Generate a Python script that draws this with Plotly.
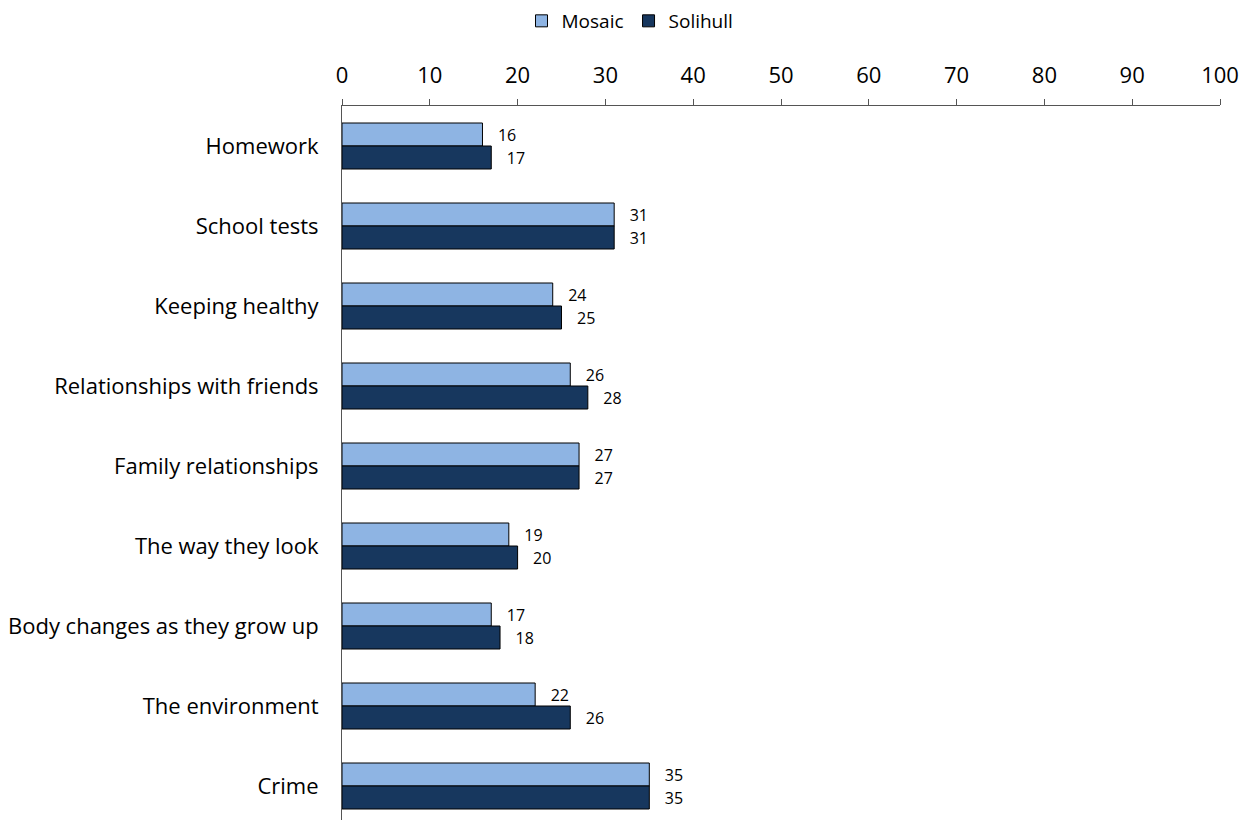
import plotly.graph_objects as go

# カテゴリと値
categories = [
    "Homework", "School tests", "Keeping healthy", "Relationships with friends",
    "Family relationships", "The way they look", "Body changes as they grow up",
    "The environment", "Crime",
]
mosaic = [16, 31, 24, 26, 27, 19, 17, 22, 35]
solihull = [17, 31, 25, 28, 27, 20, 18, 26, 35]
x_ticks = list(range(0, 101, 10))

font_main = "Open Sans, Noto Sans, sans-serif"
label_font = dict(family=font_main, size=16, color="#000")

fig = go.Figure()
fig.add_trace(go.Bar(
    y=categories, x=mosaic, name="Mosaic", orientation="h",
    marker=dict(color="#8EB4E3", line=dict(color="#000000", width=1)),
    text=[f"   {v}" for v in mosaic], textposition="outside",
    textfont=label_font, cliponaxis=False,
))
fig.add_trace(go.Bar(
    y=categories, x=solihull, name="Solihull", orientation="h",
    marker=dict(color="#17375E", line=dict(color="#000000", width=1)),
    text=[f"   {v}" for v in solihull], textposition="outside",
    textfont=label_font, cliponaxis=False,
))

# ページ本体の余白 (8px) を考慮してサイズを調整
fig.update_layout(
    width=1244, height=812,
    margin=dict(l=334, r=32, t=98, b=0, autoexpand=False),
    paper_bgcolor="white", plot_bgcolor="white",
    barmode="group", bargap=0.425, bargroupgap=0,
    font=dict(family=font_main, size=22, color="#000"),
    legend=dict(orientation="h", x=0.5, xanchor="center", xref="container",
                y=0.984, yanchor="middle", yref="container",
                font=dict(size=19), traceorder="normal"),
)
fig.update_xaxes(
    range=[0, 100], tickvals=x_ticks, side="top", showgrid=False, zeroline=False,
    showline=True, linecolor="#555", linewidth=1, ticks="outside", ticklen=6,
    tickcolor="#555", tickfont=dict(size=22), ticklabelstandoff=7,
)
fig.update_yaxes(
    categoryorder="array", categoryarray=categories, range=[8.425, -0.5],
    showgrid=False, showline=True, linecolor="#555", linewidth=1, ticks="",
    tickfont=dict(size=22), ticklabelstandoff=18,
)

fig.write_html("out.html")
